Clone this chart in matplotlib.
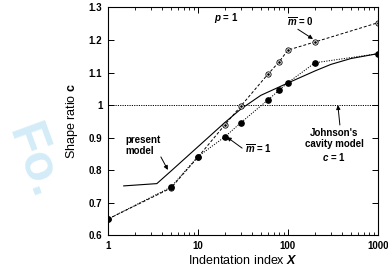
import numpy as np
import matplotlib
matplotlib.use("Agg")
import matplotlib.pyplot as plt

plt.rcParams['font.family'] = ['Liberation Sans', 'DejaVu Sans']
plt.rcParams['mathtext.fontset'] = 'custom'
plt.rcParams['mathtext.rm'] = 'Liberation Sans'
plt.rcParams['mathtext.it'] = 'Liberation Sans:italic'
plt.rcParams['mathtext.bf'] = 'Liberation Sans:bold'
plt.rcParams['mathtext.bfit'] = 'Liberation Sans:italic:bold'

# data
x_m0 = [1, 5, 10, 20, 30, 60, 80, 100, 200, 1000]
c_m0 = [0.65, 0.745, 0.84, 0.94, 0.997, 1.095, 1.133, 1.169, 1.194, 1.253]
x_m1 = [1, 5, 10, 20, 30, 60, 80, 100, 200, 1000]
c_m1 = [0.65, 0.748, 0.842, 0.903, 0.946, 1.016, 1.046, 1.069, 1.130, 1.158]
x_model = [1.5, 3.5, 5, 10, 20, 30, 50, 100, 200, 300, 500, 1000]
c_model = [0.752, 0.759, 0.797, 0.872, 0.947, 0.988, 1.03, 1.068, 1.105, 1.125, 1.143, 1.158]
johnson_c = 1.0

xticks = [1, 10, 100, 1000]
xticklabels = ['1', '10', '100', '1000']
yticks = [0.6, 0.7, 0.8, 0.9, 1.0, 1.1, 1.2, 1.3]
yticklabels = ['0.6', '0.7', '0.8', '0.9', '1', '1.1', '1.2', '1.3']

fig = plt.figure(figsize=(3.88, 2.75), dpi=100)
ax = fig.add_axes([0.278, 0.144, 0.696, 0.829])

# watermark
fig.text(0.085, 0.41, 'Fo.', color='#d3ecf8', fontsize=36, fontweight='bold',
         rotation=-70, ha='center', va='center', zorder=0)

ax.axhline(johnson_c, color='black', lw=0.7, ls=(0, (1.2, 1.2)))
ax.plot(x_model, c_model, color='black', lw=0.8, ls='-')
ax.plot(x_m0, c_m0, color='black', lw=0.7, ls=(0, (3, 2)),
        marker='o', mfc='white', mec='black', ms=3.8, mew=0.6)
ax.plot(x_m0, c_m0, ls='none', marker='o', mfc='black', mec='black', ms=0.9)
ax.plot(x_m1, c_m1, color='black', lw=0.7, ls=(0, (1.2, 1.4)),
        marker='o', mfc='black', mec='black', ms=3.8)

ax.set_xscale('log')
ax.set_xlim(1, 1000)
ax.set_ylim(0.6, 1.3)
ax.set_xticks(xticks)
ax.set_xticklabels(xticklabels)
ax.set_yticks(yticks)
ax.set_yticklabels(yticklabels)
ax.tick_params(which='both', direction='in', top=True, right=True,
               labelsize=7, pad=4)
ax.tick_params(which='major', length=4, width=0.7)
ax.tick_params(which='minor', length=2.5, width=0.6)
for lab in ax.get_xticklabels() + ax.get_yticklabels():
    lab.set_fontweight('bold')
for s in ax.spines.values():
    s.set_linewidth(0.8)

ax.set_xlabel(r'Indentation index $\mathbfit{X}$', fontsize=9, labelpad=2)
ax.set_ylabel(r'Shape ratio $\mathbf{c}$', fontsize=9, labelpad=6)

ax.text(20.5, 1.267, r'$\mathbfit{p}$ = 1', fontsize=7, fontweight='bold',
        ha='center', va='center')
ax.text(139, 1.255, r'$\overline{\mathbfit{m}}$ = 0', fontsize=7, fontweight='bold',
        ha='center', va='center')
ax.annotate('', xy=(190, 1.203), xytext=(129, 1.233),
            arrowprops=dict(arrowstyle='-|>', color='black', lw=0.7,
                            mutation_scale=6, shrinkA=0, shrinkB=0))
ax.text(33, 0.868, r'$\overline{\mathbfit{m}}$ = 1', fontsize=7, fontweight='bold',
        ha='left', va='center')
ax.annotate('', xy=(21, 0.902), xytext=(31, 0.868),
            arrowprops=dict(arrowstyle='-|>', color='black', lw=0.7,
                            mutation_scale=6, shrinkA=0, shrinkB=0))
ax.text(1.58, 0.908, 'present\nmodel', fontsize=7, fontweight='bold',
        ha='left', va='top', linespacing=1.1)
ax.annotate('', xy=(4.64, 0.801), xytext=(3.88, 0.841),
            arrowprops=dict(arrowstyle='-|>', color='black', lw=0.7,
                            mutation_scale=6, shrinkA=0, shrinkB=0))
ax.text(325, 0.93, "Johnson's\ncavity model\n" + r'$\mathbfit{c}$ = 1', fontsize=7,
        fontweight='bold', ha='center', va='top', linespacing=1.15)
ax.annotate('', xy=(359, 1.0), xytext=(378, 0.939),
            arrowprops=dict(arrowstyle='-|>', color='black', lw=0.7,
                            mutation_scale=6, shrinkA=0, shrinkB=0))

fig.savefig('out.png', dpi=100)
